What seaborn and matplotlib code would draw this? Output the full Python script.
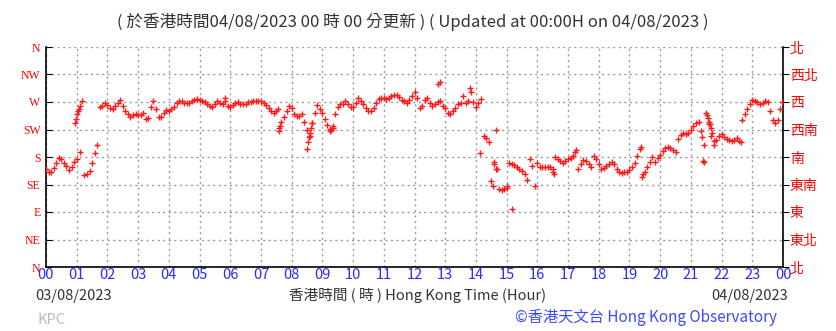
import numpy as np
import pandas as pd
import seaborn as sns
import matplotlib.pyplot as plt

# --- data: wind direction (degrees) every 5 minutes, None = no reading ---
minutes = list(range(0, 1440, 5))
wind_dir = [
    160, 155, 156, 162, 170, 178, 176, 171, 166, 159, 164, 172,   # 00
    176, None, None, 150, 153, 157, 170, 186, 200, 262, 263, 269,  # 01
    265, 260, 258, 263, 269, 273, 263, 256, 250, 246, 248, 251,   # 02
    249, 248, 252, 243, 244, 262, 272, 258, 246, 245, 252, 257,   # 03
    255, 258, 262, 268, 272, 271, 269, 268, 269, 272, 273, 275,   # 04
    273, 272, 270, 266, 263, 262, 266, 272, 268, 267, 271, 264,   # 05
    262, 265, 268, 270, 267, 266, 267, 270, 270, 271, 272, 272,   # 06
    272, 268, 265, 260, 256, 252, 255, 228, 238, 246, 256, 263,   # 07
    260, 250, 247, 247, 250, 238, 225, 215, 235, 252, 265, 258,   # 08
    252, 243, 232, 226, 228, 250, 262, 266, 266, 272, 266, 262,   # 09
    262, 268, 276, 272, 266, 260, 255, 255, 261, 268, 275, 277,   # 10
    276, 275, 276, 280, 282, 282, 279, 274, 272, 269, 274, 280,   # 11
    286, 276, 260, 264, 273, 276, 268, 263, 267, 270, 271, 264,   # 12
    260, 252, 250, 255, 261, 266, 269, 280, 269, 272, 287, 270,   # 13
    262, 268, 275, 214, 211, 204, 140, 168, 160, 127, 126, 127,   # 14
    130, 170, 169, 167, 163, 160, 157, 152, 142, 176, 165, 133,   # 15
    170, 164, 163, 163, 164, 163, 155, 180, 177, 174, 171, 173,   # 16
    176, 179, 182, 192, 160, 168, 175, 174, 168, 163, 182, 176,   # 17
    168, 161, 162, 165, 168, 172, 168, 161, 156, 154, 155, 156,   # 18
    158, 163, 170, 182, 193, 148, 156, 164, 172, 180, 172, 178,   # 19
    184, 190, 194, 197, 195, 192, 188, 210, 216, 219, 217, 220,   # 20
    225, 230, 236, 238, 222, 200, 252, 234, 214, 200, 208, 215,   # 21
    217, 213, 210, 208, 206, 208, 211, 207, 240, 250, 258, 266,   # 22
    273, 272, 270, 267, 268, 272, 270, 255, 241, 236, 240, 258,   # 23
]

# steep swings and isolated readings between the 5-minute samples
extra_min = [57, 59, 61, 63, 65, 67, 70, 67, 349, 453, 456, 458,
             509, 512, 514, 516, 518, 520, 554, 557, 560, 766, 769, 829,
             848, 873, 876, 879, 881, 910, 901, 990, 993, 1034, 1162, 1166,
             1282, 1284, 1286, 1292, 1294, 1296, 1297, 1299, 1302, 1305, 1357, 1439]
extra_dir = [236, 242, 250, 255, 259, 263, 271, 188, 277, 258, 223, 231,
             193, 205, 212, 220, 228, 236, 222, 224, 230, 299, 302, 293,
             187, 133, 172, 225, 160, 95, 133, 161, 152, 188, 197, 152,
             212, 174, 172, 248, 244, 238, 234, 228, 220, 206, 204, 270]

hour_labels = ['%02d' % (h % 24) for h in range(25)]
dir_labels_en = ['N', 'NE', 'E', 'SE', 'S', 'SW', 'W', 'NW', 'N']
dir_labels_zh = ['北', '東北', '東', '東南', '南', '西南', '西', '西北', '北']

df = pd.concat([
    pd.DataFrame({'minute': minutes, 'dir': wind_dir}),
    pd.DataFrame({'minute': extra_min, 'dir': extra_dir}),
]).dropna()
df['hour'] = df['minute'] / 60.0

# --- figure ---
sns.set_style('white')
plt.rcParams['font.family'] = ['Noto Sans CJK TC', 'DejaVu Sans']

fig = plt.figure(figsize=(8.36, 3.31), dpi=100)
ax = fig.add_axes([46 / 836, 64 / 331, 737 / 836, 220 / 331])

sns.scatterplot(data=df, x='hour', y='dir', marker='+', s=13, color='#ff1a1a',
                linewidth=1.0, ax=ax, zorder=3)

ax.set_xlim(0, 24)
ax.set_ylim(0, 360)
ax.set_xticks(range(25))
ax.set_xticklabels(hour_labels, color='#2b2bff', fontsize=10.5)
ax.set_xticks(np.arange(0.5, 24, 1), minor=True)
ax.set_yticks(range(0, 361, 45))
ax.set_yticklabels(dir_labels_en, color='red', fontsize=8.5, family='Liberation Serif')
ax.set_xlabel('')
ax.set_ylabel('')

ax.grid(True, which='major', color='#9a9a9a', linestyle=(0, (1.5, 2.5)), linewidth=1)
ax.tick_params(axis='x', which='major', direction='in', length=4, pad=1, color='black')
ax.tick_params(axis='x', which='minor', direction='in', length=3, color='black')
ax.tick_params(axis='y', direction='in', length=4, pad=4, color='black')

for s in ['left', 'bottom', 'right']:
    ax.spines[s].set_color('black')
    ax.spines[s].set_linewidth(1.2)
ax.spines['top'].set_visible(False)

ax2 = ax.twinx()
ax2.set_ylim(0, 360)
ax2.set_yticks(range(0, 361, 45))
ax2.set_yticklabels(dir_labels_zh, color='red', fontsize=10)
ax2.tick_params(axis='y', direction='out', length=4, pad=1, color='black')
for s in ax2.spines.values():
    s.set_visible(False)

# --- texts ---
fig.text(0.494, 0.934, '( 於香港時間04/08/2023 00 時 00 分更新 ) ( Updated at 00:00H on 04/08/2023 )',
         ha='center', va='center', fontsize=12, color='#333333')
fig.text(0.042, 0.106, '03/08/2023', ha='left', va='center', fontsize=10.5, color='#333333')
fig.text(0.5, 0.106, '香港時間 ( 時 ) Hong Kong Time (Hour)', ha='center', va='center',
         fontsize=10.5, color='#333333')
fig.text(0.942, 0.106, '04/08/2023', ha='right', va='center', fontsize=10.5, color='#333333')
fig.text(0.045, 0.033, 'KPC', ha='left', va='center', fontsize=10.5, color='#bbbbbb')
fig.text(0.929, 0.04, '©香港天文台 Hong Kong Observatory', ha='right', va='center',
         fontsize=11, color='#3a4cff')

fig.savefig('out.png', dpi=100)
